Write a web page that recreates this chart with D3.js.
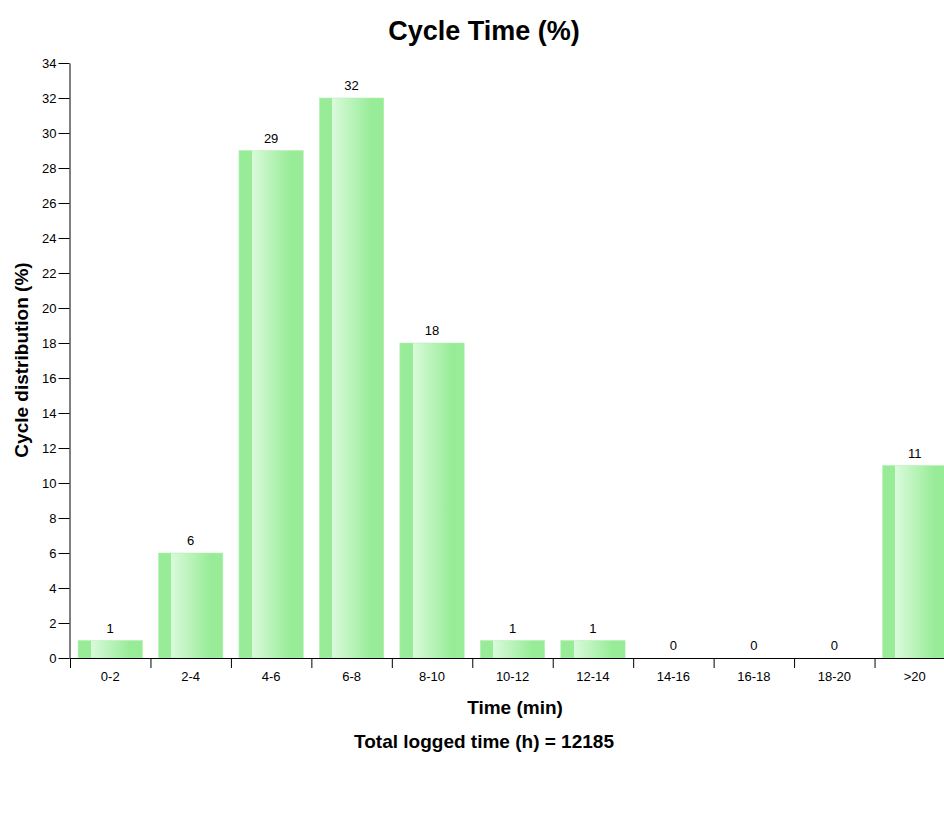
<!DOCTYPE html>
<html><head><meta charset="utf-8">
<script src="https://cdn.jsdelivr.net/npm/d3@7"></script>
<style>body{margin:0;background:#fff}svg{display:block}text{font-family:"Liberation Sans",Arial,sans-serif}</style>
</head><body>
<svg id="c" width="944" height="833"></svg>
<script>
const categories = ["0-2","2-4","4-6","6-8","8-10","10-12","12-14","14-16","16-18","18-20",">20"];
const values = [1,6,29,32,18,1,1,0,0,0,11];
const yTicks = d3.range(0,35,2);

const svg = d3.select("#c");
const x0 = 70, x1 = 955, yTop = 63, yBot = 658;
const x = d3.scaleBand().domain(categories).range([x0,x1]).paddingInner(0.2).paddingOuter(0.1);
const xb = d3.scaleBand().domain(categories).range([x0,x1]).padding(0);
const y = d3.scaleLinear().domain([0,34]).range([yBot,yTop]);

const defs = svg.append("defs");
const g = defs.append("linearGradient").attr("id","bg").attr("x1","0").attr("x2","1").attr("y1","0").attr("y2","0");
[[0,"#98ec98"],[0.2,"#98ec98"],[0.2,"#dafadb"],[0.8,"#98ec98"],[1,"#98ec98"]].forEach(s=>g.append("stop").attr("offset",s[0]).attr("stop-color",s[1]));

svg.append("text").attr("x",484).attr("y",40).attr("text-anchor","middle").attr("font-size",27).attr("font-weight","bold").text("Cycle Time (%)");

svg.selectAll("rect.bar").data(values).join("rect").attr("class","bar")
  .attr("x",(d,i)=>x(categories[i])).attr("width",x.bandwidth())
  .attr("y",d=>y(d)).attr("height",d=>yBot-y(d))
  .attr("fill","url(#bg)").attr("stroke","#b0f0b0").attr("stroke-width",0.5);

svg.selectAll("text.val").data(values).join("text").attr("class","val")
  .attr("x",(d,i)=>x(categories[i])+x.bandwidth()/2).attr("y",d=>y(d)-8)
  .attr("text-anchor","middle").attr("font-size",13).attr("fill","#000").text(d=>d);

// y axis
const ya = svg.append("g").attr("transform",`translate(${x0-0.5},0)`)
  .call(d3.axisLeft(y).tickValues(yTicks).tickSize(11).tickPadding(2).tickSizeOuter(0));
ya.selectAll("text").attr("font-size",13).attr("fill","#000").attr("font-family","Liberation Sans, Arial, sans-serif");
ya.select(".domain").attr("stroke","#000");
ya.selectAll(".tick line").attr("stroke","#000");

// x axis
const xa = svg.append("g").attr("transform",`translate(0,${yBot})`)
  .call(d3.axisBottom(x).tickSize(0).tickSizeOuter(0).tickPadding(14));
xa.selectAll("text").attr("font-size",13).attr("fill","#000").attr("font-family","Liberation Sans, Arial, sans-serif");
xa.select(".domain").attr("stroke","#000");
xa.selectAll("line.bd").data(categories).join("line").attr("class","bd")
  .attr("x1",d=>xb(d)+0.5).attr("x2",d=>xb(d)+0.5).attr("y1",0).attr("y2",10).attr("stroke","#000");

svg.append("text").attr("transform","translate(28,360) rotate(-90)").attr("text-anchor","middle")
  .attr("font-size",19).attr("font-weight","bold").text("Cycle distribution (%)");
svg.append("text").attr("x",515).attr("y",714).attr("text-anchor","middle").attr("font-size",19).attr("font-weight","bold").text("Time (min)");
svg.append("text").attr("x",484).attr("y",748).attr("text-anchor","middle").attr("font-size",19).attr("font-weight","bold").text("Total logged time (h) = 12185");
</script>
</body></html>
